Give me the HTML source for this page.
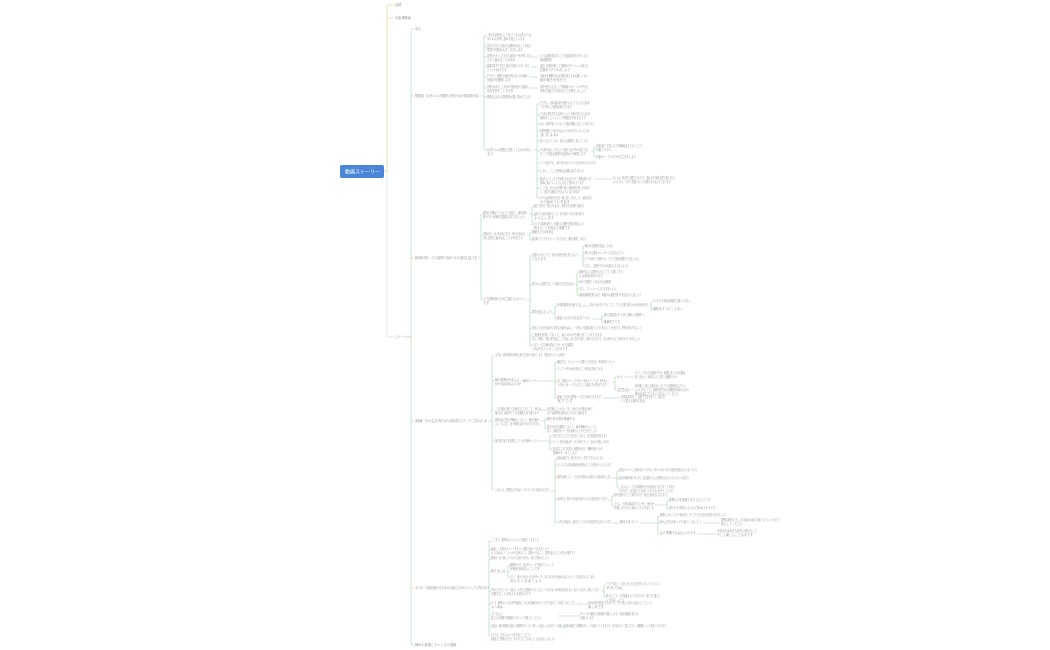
<!DOCTYPE html>
<html><head><meta charset="utf-8">
<style>
html,body{margin:0;padding:0;background:#fff;width:1050px;height:650px;overflow:hidden}
svg{display:block}
.t{font-family:"Liberation Sans","Noto Sans CJK JP",sans-serif;font-size:3.2px;fill:#9a9a9a}
.l{stroke:#a6d4ae;stroke-width:0.6;fill:none}
.y{stroke:#e3d9a2;stroke-width:0.8;fill:none}
.p{stroke:#d3e9dc;stroke-width:0.8;fill:none}
</style></head><body>
<svg width="1050" height="650" viewBox="0 0 1050 650" xmlns="http://www.w3.org/2000/svg">
<!-- root -->
<rect x="340" y="165" width="44" height="13" rx="2" fill="#4a86d8"/>
<text x="345" y="173.5" font-size="5" fill="#fff" font-family="Liberation Sans,Noto Sans CJK JP,sans-serif">動画ストーリー</text>
<path class="y" d="M384 171H387M387 171V7Q387 5 389 5H394M387 18H394"/>
<path class="p" d="M387 171V335Q387 337 389 337H394"/>
<text class="t" x="395" y="6">目標</text>
<text class="t" x="395" y="19">対象視聴者</text>
<text class="t" x="395" y="338">ストーリー</text>
<path class="l" d="M407 337H411M411 31V643Q411 645 413 645H414M411 29H414M411 96H414M411 258H414M411 421H414M411 588H414"/>
<text class="t" x="415" y="30">導入</text>
<text class="t" x="415" y="97" textLength="64" lengthAdjust="spacingAndGlyphs">問題提起：なぜ多くの人が習慣化に失敗するのか根本原因を探る</text>
<text class="t" x="415" y="259" textLength="62" lengthAdjust="spacingAndGlyphs">解決策の提示：小さな習慣から始めて大きな変化を生む方法</text>
<text class="t" x="415" y="422" textLength="72" lengthAdjust="spacingAndGlyphs">実践編：日々の生活で取り入れる具体的なステップと工夫のまとめ</text>
<text class="t" x="415" y="589" textLength="74" lengthAdjust="spacingAndGlyphs">まとめ：行動を続けるための心構えと次のステップと呼びかけ</text>
<text class="t" x="415" y="646">締めの言葉とチャンネル登録</text>

<!-- branch 96 -->
<path class="l" d="M480 96H484M484 36V150M484 36H487M484 47H487M484 57H487M484 67H487M484 77H487M484 88H487M484 97H487M484 150H487"/>
<text class="t" x="487" y="36" textLength="44" lengthAdjust="spacingAndGlyphs">「続ける自信がない」と感じている人は多いのでは</text>
<text class="t" x="487" y="40" textLength="38" lengthAdjust="spacingAndGlyphs">多くの人が同じ悩みを抱えています</text>
<text class="t" x="487" y="47" textLength="44" lengthAdjust="spacingAndGlyphs">意志の力だけに頼るのは限界があることを知る</text>
<text class="t" x="487" y="51" textLength="36" lengthAdjust="spacingAndGlyphs">環境が行動を大きく左右します</text>
<text class="t" x="487" y="57" textLength="44" lengthAdjust="spacingAndGlyphs">目標を大きくしすぎると最初の一歩が重くなる</text>
<text class="t" x="487" y="61" textLength="28" lengthAdjust="spacingAndGlyphs">小さく始めることが大切</text>
<text class="t" x="487" y="67" textLength="42" lengthAdjust="spacingAndGlyphs">結果を急ぎすぎると途中で挫折しやすくなる</text>
<text class="t" x="487" y="71" textLength="20" lengthAdjust="spacingAndGlyphs">というわけです</text>
<text class="t" x="487" y="77" textLength="42" lengthAdjust="spacingAndGlyphs">そもそも、習慣の仕組みを知らないまま始めて</text>
<text class="t" x="487" y="81" textLength="24" lengthAdjust="spacingAndGlyphs">仕組みを理解します</text>
<text class="t" x="487" y="88" textLength="42" lengthAdjust="spacingAndGlyphs">失敗を責めることが次の行動を妨げる原因に</text>
<text class="t" x="487" y="92" textLength="26" lengthAdjust="spacingAndGlyphs">自分を許すことも大事</text>
<text class="t" x="487" y="98" textLength="44" lengthAdjust="spacingAndGlyphs">習慣化にはおよそ数週間が必要と言われています</text>
<text class="t" x="487" y="151" textLength="44" lengthAdjust="spacingAndGlyphs">なぜ多くの人が習慣化に失敗してしまうのかを考え</text>
<text class="t" x="487" y="155">ます</text>
<path class="l" d="M531 57H538M531 67H538M529 77H538M529 88H538"/>
<text class="t" x="540" y="57" textLength="48" lengthAdjust="spacingAndGlyphs">小さな目標を設定することで達成感を得られやすくなる</text>
<text class="t" x="540" y="61" textLength="12" lengthAdjust="spacingAndGlyphs">効果的</text>
<text class="t" x="540" y="67" textLength="48" lengthAdjust="spacingAndGlyphs">達成した記録を残すことで継続のモチベーションが保てる</text>
<text class="t" x="540" y="71" textLength="30" lengthAdjust="spacingAndGlyphs">記録をつけてみましょう</text>
<text class="t" x="540" y="77" textLength="48" lengthAdjust="spacingAndGlyphs">仕組みを理解すれば行動を変えるのは難しくない</text>
<text class="t" x="540" y="81" textLength="26" lengthAdjust="spacingAndGlyphs">脳の働きを知ろう</text>
<text class="t" x="540" y="88" textLength="48" lengthAdjust="spacingAndGlyphs">失敗を受け入れることで再挑戦へのハードルが下がる</text>
<text class="t" x="540" y="92" textLength="46" lengthAdjust="spacingAndGlyphs">完璧を目指さずに続けることを優先しましょう</text>

<!-- sub of 150 -->
<path class="l" d="M534 150H537M537 104V198M537 104H540M537 115H540M537 124H540M537 131H540M537 141H540M537 151H540M537 163H540M537 171H540M537 179H540M537 188H540M537 198H540"/>
<text class="t" x="540" y="104" textLength="50" lengthAdjust="spacingAndGlyphs">そもそも、人間の脳は変化を嫌うようにできていると言われ</text>
<text class="t" x="540" y="108" textLength="32" lengthAdjust="spacingAndGlyphs">ており新しい習慣は抵抗されます</text>
<text class="t" x="540" y="115" textLength="50" lengthAdjust="spacingAndGlyphs">やる気に頼る方法では気分によって行動が左右されるため</text>
<text class="t" x="540" y="119" textLength="46" lengthAdjust="spacingAndGlyphs">長続きしにくいという問題点があるのです</text>
<text class="t" x="540" y="125" textLength="54" lengthAdjust="spacingAndGlyphs">また、環境が整っていないと行動の障害になることもあります</text>
<text class="t" x="540" y="132" textLength="50" lengthAdjust="spacingAndGlyphs">目標が曖昧だと何をすればよいのか分からなくなってしまい</text>
<text class="t" x="540" y="136" textLength="18" lengthAdjust="spacingAndGlyphs">ますよね</text>
<text class="t" x="540" y="142" textLength="48" lengthAdjust="spacingAndGlyphs">他人と比べてしまい、自分には無理だと感じてしまう</text>
<text class="t" x="540" y="151" textLength="48" lengthAdjust="spacingAndGlyphs">やる気が出ないときにどう行動するかが分かれ目となる</text>
<text class="t" x="540" y="155" textLength="46" lengthAdjust="spacingAndGlyphs">そこで今回は習慣の仕組みから解説します</text>
<text class="t" x="540" y="164" textLength="56" lengthAdjust="spacingAndGlyphs">ゴールが遠すぎると、途中で何のためにやっているのか分からなくなります</text>
<text class="t" x="540" y="172" textLength="44" lengthAdjust="spacingAndGlyphs">しかし、ここで諦める必要はありません</text>
<text class="t" x="540" y="180" textLength="52" lengthAdjust="spacingAndGlyphs">実はちょっとした工夫を取り入れるだけで、習慣は驚くほど</text>
<text class="t" x="540" y="184" textLength="44" lengthAdjust="spacingAndGlyphs">簡単に身につくようになると言われています</text>
<text class="t" x="540" y="189" textLength="50" lengthAdjust="spacingAndGlyphs">ここでは、あらゆる分野で使える基本的な考え方を紹介</text>
<text class="t" x="540" y="193" textLength="40" lengthAdjust="spacingAndGlyphs">し、誰でも実践できるようにまとめます</text>
<text class="t" x="540" y="199" textLength="52" lengthAdjust="spacingAndGlyphs">それでは具体的な方法を一緒に見ていきましょう、最初は導入</text>
<text class="t" x="540" y="203" textLength="30" lengthAdjust="spacingAndGlyphs">から始めていきます</text>
<path class="l" d="M591 151H594M594 147V157M594 147H596M594 157H596M594 179H612"/>
<text class="t" x="596" y="147" textLength="46" lengthAdjust="spacingAndGlyphs">行動を起こす前に小さな準備を整えておくことで</text>
<text class="t" x="596" y="151" textLength="16" lengthAdjust="spacingAndGlyphs">行動しやすく</text>
<text class="t" x="596" y="158" textLength="40" lengthAdjust="spacingAndGlyphs">行動のハードルを下げる工夫をします</text>
<text class="t" x="613" y="179" textLength="62" lengthAdjust="spacingAndGlyphs">たとえば、毎日同じ時間に行うだけで、脳はその行動を自然と受け入れる</text>
<text class="t" x="613" y="183" textLength="58" lengthAdjust="spacingAndGlyphs">ようになり、やがて意識しなくても続けられるようになります</text>

<!-- branch 258 -->
<path class="l" d="M478 258H481M481 214V300M481 214H483M481 235H483M481 300H483"/>
<text class="t" x="483" y="214" textLength="44" lengthAdjust="spacingAndGlyphs">最初の目標はとても小さく設定し、達成感を</text>
<text class="t" x="483" y="218" textLength="42" lengthAdjust="spacingAndGlyphs">得やすい状態を意識的に作りましょう</text>
<text class="t" x="483" y="235" textLength="42" lengthAdjust="spacingAndGlyphs">行動のきっかけを決めておき、毎日の流れの</text>
<text class="t" x="483" y="239" textLength="40" lengthAdjust="spacingAndGlyphs">中に自然に組み込むことが大切です</text>
<text class="t" x="483" y="300" textLength="42" lengthAdjust="spacingAndGlyphs">小さな習慣を続けるために意識したいポイント</text>
<text class="t" x="483" y="304">です</text>
<path class="l" d="M529 214H532M532 207V225M532 207H534M532 215H534M532 225H534"/>
<text class="t" x="534" y="207" textLength="50" lengthAdjust="spacingAndGlyphs">腕立て伏せを一回だけやるなど、簡単すぎる目標から始める</text>
<text class="t" x="534" y="215" textLength="50" lengthAdjust="spacingAndGlyphs">達成したら自分を褒めることで、次の行動につながる流れを作る</text>
<text class="t" x="534" y="219" textLength="20" lengthAdjust="spacingAndGlyphs">ようにします</text>
<text class="t" x="534" y="225" textLength="50" lengthAdjust="spacingAndGlyphs">少しずつ負荷を増やし、無理のない範囲で成長を実感しよう</text>
<text class="t" x="534" y="229" textLength="36" lengthAdjust="spacingAndGlyphs">続けることが何より重要です</text>
<path class="l" d="M527 235H530M530 233V240M530 233H532M530 240H532"/>
<text class="t" x="532" y="233" textLength="22" lengthAdjust="spacingAndGlyphs">朝起きたら水を飲む</text>
<text class="t" x="532" y="240" textLength="54" lengthAdjust="spacingAndGlyphs">歯を磨いたら一分だけストレッチをするなど、既存の習慣につなげる</text>
<path class="l" d="M527 300H530M530 256V346M530 256H532M530 285H532M530 313H532M530 329H532M530 336H532M530 346H532"/>
<text class="t" x="532" y="256" textLength="46" lengthAdjust="spacingAndGlyphs">記録をつけることで、自分の成長が目に見えるよう</text>
<text class="t" x="532" y="260" textLength="14" lengthAdjust="spacingAndGlyphs">になります</text>
<text class="t" x="532" y="285" textLength="42" lengthAdjust="spacingAndGlyphs">周りの人に宣言することで続ける力が生まれる</text>
<text class="t" x="532" y="313" textLength="20" lengthAdjust="spacingAndGlyphs">環境を整えましょう</text>
<text class="t" x="532" y="329" textLength="110" lengthAdjust="spacingAndGlyphs">失敗しても自分を責めずに翌日また始めればよい、一日休んでも習慣は続いていると考えることが大切です、完璧を求めすぎないこと</text>
<text class="t" x="532" y="336" textLength="70" lengthAdjust="spacingAndGlyphs">ご褒美を用意しておくと、楽しみながら続けることができます</text>
<text class="t" x="532" y="340" textLength="108" lengthAdjust="spacingAndGlyphs">また、仲間と一緒に取り組むことで励まし合いながら楽しく続けられるので、ぜひ周りの人にも声をかけてみましょう</text>
<text class="t" x="532" y="346" textLength="42" lengthAdjust="spacingAndGlyphs">つまり、小さな積み重ねこそが、大きな結果に</text>
<text class="t" x="532" y="350" textLength="36" lengthAdjust="spacingAndGlyphs">つながるということなのです</text>
<path class="l" d="M580 256H583M583 246V266M583 246H585M583 253H585M583 259H585M583 266H585"/>
<text class="t" x="585" y="247" textLength="28" lengthAdjust="spacingAndGlyphs">毎日の記録を見返してみる</text>
<text class="t" x="585" y="254" textLength="40" lengthAdjust="spacingAndGlyphs">続いた日数をカレンダーに書き込んでいく</text>
<text class="t" x="585" y="260" textLength="54" lengthAdjust="spacingAndGlyphs">アプリを使って記録すると、グラフで成長が確認できて楽しくなる</text>
<text class="t" x="585" y="267" textLength="44" lengthAdjust="spacingAndGlyphs">ただし、記録そのものが目的にならないように</text>
<path class="l" d="M575 285H577M577 273V295M577 273H579M577 282H579M577 289H579M577 295H579"/>
<text class="t" x="579" y="273" textLength="44" lengthAdjust="spacingAndGlyphs">家族や友人に目標を伝えることで、応援してもら</text>
<text class="t" x="579" y="277" textLength="24" lengthAdjust="spacingAndGlyphs">える環境が作れます</text>
<text class="t" x="579" y="283" textLength="32" lengthAdjust="spacingAndGlyphs">SNSで発信してみるのも効果的</text>
<text class="t" x="579" y="290" textLength="38" lengthAdjust="spacingAndGlyphs">ただし、プレッシャーになりすぎないように</text>
<text class="t" x="579" y="296" textLength="62" lengthAdjust="spacingAndGlyphs">適度な距離感を保ちながら、無理のない範囲で周りを巻き込んでいきましょう</text>
<path class="l" d="M552 313H555M555 306V319M555 306H557M555 319H557"/>
<text class="t" x="557" y="306" textLength="24" lengthAdjust="spacingAndGlyphs">作業場所を整える</text>
<text class="t" x="557" y="319" textLength="34" lengthAdjust="spacingAndGlyphs">誘惑になるものを遠ざけておく</text>
<path class="l" d="M581 306H590M652 306H651M651 302V310M651 302H653M651 310H653M592 319H602M602 316V323M602 316H604M602 323H604"/>
<text class="t" x="590" y="306" textLength="58" lengthAdjust="spacingAndGlyphs">机の上を片付けておくことで、すぐに作業に取りかかれる状態を作る</text>
<text class="t" x="653" y="302" textLength="38" lengthAdjust="spacingAndGlyphs">スマホを別の部屋に置いておく</text>
<text class="t" x="653" y="310" textLength="30" lengthAdjust="spacingAndGlyphs">通知をオフにしておく</text>
<text class="t" x="604" y="316" textLength="40" lengthAdjust="spacingAndGlyphs">使う道具をすぐ手に取れる場所へ</text>
<text class="t" x="604" y="323" textLength="16" lengthAdjust="spacingAndGlyphs">準備完了です</text>

<!-- branch 421 -->
<path class="l" d="M488 421H492M492 356V490M492 356H494M492 381H494M492 410H494M492 421H494M492 441H494M492 490H494"/>
<text class="t" x="495" y="356" textLength="70" lengthAdjust="spacingAndGlyphs">まずは、朝の時間を有効に使う方法から紹介します、早起きのコツとは何か</text>
<text class="t" x="495" y="381" textLength="24" lengthAdjust="spacingAndGlyphs">朝の習慣を作るには</text>
<text class="t" x="495" y="385" textLength="26" lengthAdjust="spacingAndGlyphs">何から始めればよいのか</text>
<text class="t" x="495" y="410" textLength="46" lengthAdjust="spacingAndGlyphs">こんな場合に備えて計画を立てておくこと、例えば</text>
<text class="t" x="495" y="414" textLength="44" lengthAdjust="spacingAndGlyphs">雨の日には室内でできる運動に切り替えます</text>
<text class="t" x="495" y="421" textLength="44" lengthAdjust="spacingAndGlyphs">夜寝る前に翌日の準備をしておくと、朝の行動が</text>
<text class="t" x="495" y="425" textLength="44" lengthAdjust="spacingAndGlyphs">スムーズになり、迷う時間を減らせるのでおすすめ</text>
<text class="t" x="495" y="442" textLength="42" lengthAdjust="spacingAndGlyphs">夜の振り返りを習慣にして一日を締めくくる</text>
<text class="t" x="495" y="491" textLength="54" lengthAdjust="spacingAndGlyphs">このように、習慣化の方法はシンプルでいつでも始められます</text>
<path class="l" d="M520 381H523M541 381H555M555 362V398M555 362H557M555 369H557M555 382H557M555 398H557"/>
<text class="t" x="523" y="382" textLength="18" lengthAdjust="spacingAndGlyphs">朝のルーティン</text>
<text class="t" x="557" y="363" textLength="58" lengthAdjust="spacingAndGlyphs">朝起きたら、すぐにカーテンを開けて日光を浴び、体内時計をリセット</text>
<text class="t" x="557" y="370" textLength="46" lengthAdjust="spacingAndGlyphs">コップ一杯の水を飲んで、体を目覚めさせる</text>
<text class="t" x="557" y="382" textLength="52" lengthAdjust="spacingAndGlyphs">次に、簡単なストレッチを行って体をほぐしていき、気持ちよく</text>
<text class="t" x="557" y="386" textLength="50" lengthAdjust="spacingAndGlyphs">一日をスタートさせることで集中力が高まります</text>
<text class="t" x="557" y="398" textLength="44" lengthAdjust="spacingAndGlyphs">最後に今日の目標を一つだけ決めておきます</text>
<text class="t" x="557" y="402" textLength="16" lengthAdjust="spacingAndGlyphs">完了です</text>
<path class="l" d="M612 382H615M615 377V390M615 377H617M615 390H617M629 377H634M629 390H634M603 398H620"/>
<text class="t" x="617" y="378" textLength="12" lengthAdjust="spacingAndGlyphs">ポイント</text>
<text class="t" x="617" y="391" textLength="12" lengthAdjust="spacingAndGlyphs">注意点</text>
<text class="t" x="635" y="374" textLength="50" lengthAdjust="spacingAndGlyphs">ストレッチは五分程度で十分、無理に長く行う必要は</text>
<text class="t" x="635" y="378" textLength="42" lengthAdjust="spacingAndGlyphs">ありません、気持ちよいと感じる範囲で行う</text>
<text class="t" x="635" y="387" textLength="52" lengthAdjust="spacingAndGlyphs">体が硬いと感じる場合は、少しずつ可動域を広げていく</text>
<text class="t" x="635" y="391" textLength="54" lengthAdjust="spacingAndGlyphs">ようにすることで、怪我を防ぎながら柔軟性を高められます</text>
<text class="t" x="635" y="395" textLength="44" lengthAdjust="spacingAndGlyphs">痛みを感じたらすぐに中止してください</text>
<text class="t" x="621" y="398" textLength="44" lengthAdjust="spacingAndGlyphs">目標は具体的に、達成できる大きさに、紙に書</text>
<text class="t" x="621" y="402" textLength="24" lengthAdjust="spacingAndGlyphs">いて見える場所に貼る</text>
<path class="l" d="M540 410H547"/>
<text class="t" x="547" y="410" textLength="46" lengthAdjust="spacingAndGlyphs">予定通りにいかなくても、代わりの行動を決めて</text>
<text class="t" x="547" y="414" textLength="40" lengthAdjust="spacingAndGlyphs">おけば習慣を途切れさせずに済みます</text>
<path class="l" d="M540 421H545M545 419V428M545 419H547M545 428H547"/>
<text class="t" x="547" y="420" textLength="28" lengthAdjust="spacingAndGlyphs">服や持ち物を準備する</text>
<text class="t" x="547" y="428" textLength="50" lengthAdjust="spacingAndGlyphs">翌日の予定を確認しておくと、朝の準備がスムーズに</text>
<text class="t" x="547" y="432" textLength="50" lengthAdjust="spacingAndGlyphs">なり、余裕を持って一日を始めることができるでしょう</text>
<path class="l" d="M538 441H550M550 436V450M550 436H553M550 442H553M550 450H553"/>
<text class="t" x="553" y="437" textLength="54" lengthAdjust="spacingAndGlyphs">今日できたことを三つ書き出してみると、自己肯定感が高まります</text>
<text class="t" x="553" y="443" textLength="56" lengthAdjust="spacingAndGlyphs">そして、明日の改善点を一つだけ決めておくと、次の日の行動につながる</text>
<text class="t" x="553" y="450" textLength="50" lengthAdjust="spacingAndGlyphs">寝る前にスマホを見ない時間を作ると、睡眠の質が上がり</text>
<text class="t" x="553" y="454" textLength="24" lengthAdjust="spacingAndGlyphs">翌朝がすっきりします</text>
<path class="l" d="M550 491H555M555 459V523M555 459H557M555 466H557M555 478H557M555 500H557M555 523H557"/>
<text class="t" x="557" y="459" textLength="46" lengthAdjust="spacingAndGlyphs">最初は面倒でも、続けるうちに、自然とできるようになる</text>
<text class="t" x="557" y="466" textLength="54" lengthAdjust="spacingAndGlyphs">そして小さな成功体験を積み重ねることで自信がついていきます</text>
<text class="t" x="557" y="478" textLength="54" lengthAdjust="spacingAndGlyphs">具体的な例として、一日五分の読書から始めた人の話を紹介します</text>
<text class="t" x="557" y="500" textLength="50" lengthAdjust="spacingAndGlyphs">別の例では、毎日十分の散歩を続けている人の変化を見ていきます</text>
<text class="t" x="557" y="523" textLength="54" lengthAdjust="spacingAndGlyphs">いずれの場合も、続けることで大きな変化が生まれています</text>
<path class="l" d="M612 478H617M617 471V488M617 471H619M617 479H619M617 488H619"/>
<text class="t" x="619" y="471" textLength="78" lengthAdjust="spacingAndGlyphs">最初は一ページしか読めなかったけれど、気がつけば一か月で何冊も読めるようになっていた</text>
<text class="t" x="619" y="479" textLength="70" lengthAdjust="spacingAndGlyphs">読書の時間が楽しみになり、生活全体にもよい影響が出るようになったという話です</text>
<text class="t" x="619" y="488" textLength="56" lengthAdjust="spacingAndGlyphs">このように、小さな習慣が大きな変化をもたらすことがあり</text>
<text class="t" x="619" y="492" textLength="54" lengthAdjust="spacingAndGlyphs">ますので、ぜひ皆さんも試してみてはいかがでしょうか</text>
<path class="l" d="M608 500H612M612 496V506M612 496H614M612 506H614M655 505H667M667 501V509M667 501H669M667 509H669"/>
<text class="t" x="614" y="496" textLength="54" lengthAdjust="spacingAndGlyphs">散歩を続けたことで体力がつき、気分も前向きになりました</text>
<text class="t" x="614" y="505" textLength="40" lengthAdjust="spacingAndGlyphs">さらに、仕事の集中力も上がり、毎日が</text>
<text class="t" x="614" y="509" textLength="40" lengthAdjust="spacingAndGlyphs">充実したものに変わっていきました</text>
<text class="t" x="669" y="501" textLength="42" lengthAdjust="spacingAndGlyphs">習慣の力を実感できたとのことです</text>
<text class="t" x="669" y="509" textLength="46" lengthAdjust="spacingAndGlyphs">周りからも明るくなったと言われたそうです</text>
<path class="l" d="M612 523H620M640 523H658M658 516V534M658 516H660M658 523H660M658 534H660M703 523H720M697 534H716"/>
<text class="t" x="620" y="523" textLength="18" lengthAdjust="spacingAndGlyphs">続けるコツ</text>
<text class="t" x="660" y="516" textLength="66" lengthAdjust="spacingAndGlyphs">無理をしないことが一番大切で、少しでもできた自分を認めてあげましょう</text>
<text class="t" x="660" y="523" textLength="42" lengthAdjust="spacingAndGlyphs">休んだ日があっても気にしないこと</text>
<text class="t" x="660" y="534" textLength="36" lengthAdjust="spacingAndGlyphs">また再開すればよいのです</text>
<text class="t" x="721" y="521" textLength="58" lengthAdjust="spacingAndGlyphs">習慣は途切れても、また始めれば必ず身についていくもので</text>
<text class="t" x="721" y="525" textLength="22" lengthAdjust="spacingAndGlyphs">安心してください</text>
<text class="t" x="717" y="532" textLength="40" lengthAdjust="spacingAndGlyphs">大切なのはあきらめずに続けること</text>
<text class="t" x="717" y="536" textLength="36" lengthAdjust="spacingAndGlyphs">そして楽しむことなのです</text>

<!-- branch 588 -->
<path class="l" d="M489 541V636M489 541H491M489 550H491M489 559H491M489 572H491M489 591H491M489 604H491M489 615H491M489 627H491M489 636H491"/>
<text class="t" x="491" y="541" textLength="48" lengthAdjust="spacingAndGlyphs">ここまで、習慣化のコツについて解説してきました</text>
<text class="t" x="491" y="550" textLength="58" lengthAdjust="spacingAndGlyphs">最後に、大切なポイントをもう一度振り返っておきましょう</text>
<text class="t" x="491" y="554" textLength="84" lengthAdjust="spacingAndGlyphs">小さく始めること、きっかけを決めること、記録をつけること、環境を整えることの四つが基本です</text>
<text class="t" x="491" y="559" textLength="58" lengthAdjust="spacingAndGlyphs">習慣は一日で身につくものではありません、焦らず進みましょう</text>
<text class="t" x="491" y="572" textLength="14" lengthAdjust="spacingAndGlyphs">続けるには</text>
<text class="t" x="491" y="591" textLength="108" lengthAdjust="spacingAndGlyphs">今日からできることを一つ選んで、まずは三日間続けてみてください、その小さな一歩が未来の自分を大きく変えていきます、応援しています</text>
<text class="t" x="491" y="595" textLength="40" lengthAdjust="spacingAndGlyphs">行動することが何より大切なのです</text>
<text class="t" x="491" y="604" textLength="84" lengthAdjust="spacingAndGlyphs">そして、習慣化のコツは仕事や勉強など、あらゆる場面で活かすことができるので、ぜひ試してみてくださ</text>
<text class="t" x="491" y="608" textLength="12" lengthAdjust="spacingAndGlyphs">いね</text>
<text class="t" x="491" y="615" textLength="12" lengthAdjust="spacingAndGlyphs">さらに</text>
<text class="t" x="491" y="619" textLength="50" lengthAdjust="spacingAndGlyphs">皆さんの感想や体験談もコメントで教えてください</text>
<text class="t" x="491" y="627" textLength="76" lengthAdjust="spacingAndGlyphs">次回は、朝の時間を活用した習慣作りについて詳しくお話ししますので、お楽しみに</text>
<text class="t" x="491" y="636" textLength="40" lengthAdjust="spacingAndGlyphs">それでは、今日もよい一日をお過ごしください</text>
<text class="t" x="491" y="640" textLength="64" lengthAdjust="spacingAndGlyphs">最後までご視聴いただき、ありがとうございました、またお会いしましょう</text>
<path class="l" d="M506 572H508M508 566V578M508 566H510M508 578H510"/>
<text class="t" x="510" y="566" textLength="44" lengthAdjust="spacingAndGlyphs">無理をせず、自分のペースで続けていくこと</text>
<text class="t" x="510" y="570" textLength="30" lengthAdjust="spacingAndGlyphs">完璧を求めないことです</text>
<text class="t" x="510" y="578" textLength="84" lengthAdjust="spacingAndGlyphs">そして、続けられなかった日があっても、また次の日から始めればよいということを忘れないで、前を</text>
<text class="t" x="510" y="582" textLength="32" lengthAdjust="spacingAndGlyphs">向いていきましょう</text>
<path class="l" d="M601 591H604M604 585V597M604 585H606M604 597H606M577 604H588M558 616H580M560 627H566"/>
<text class="t" x="606" y="585" textLength="54" lengthAdjust="spacingAndGlyphs">一つずつ試して、自分に合った方法を見つけていってください</text>
<text class="t" x="606" y="589" textLength="16" lengthAdjust="spacingAndGlyphs">それでは</text>
<text class="t" x="606" y="597" textLength="54" lengthAdjust="spacingAndGlyphs">続けることで、必ず結果はついてきますので、焦らずに進んで</text>
<text class="t" x="606" y="601" textLength="18" lengthAdjust="spacingAndGlyphs">いきましょう</text>
<text class="t" x="588" y="604" textLength="64" lengthAdjust="spacingAndGlyphs">自分の成長を実感できるはずです、きっと新しい自分に出会えることでしょう</text>
<text class="t" x="588" y="608" textLength="16" lengthAdjust="spacingAndGlyphs">楽しみです</text>
<text class="t" x="580" y="615" textLength="58" lengthAdjust="spacingAndGlyphs">チャンネル登録と高評価をお願いします、次回の動画も見てね</text>
<text class="t" x="580" y="619" textLength="14" lengthAdjust="spacingAndGlyphs">お願いします</text>
<text class="t" x="566" y="627" textLength="100" lengthAdjust="spacingAndGlyphs">他の動画でも習慣化のヒントを紹介していますので、ぜひあわせてご覧ください、概要欄にリンクを貼っておきます</text>
</svg>
</body></html>
